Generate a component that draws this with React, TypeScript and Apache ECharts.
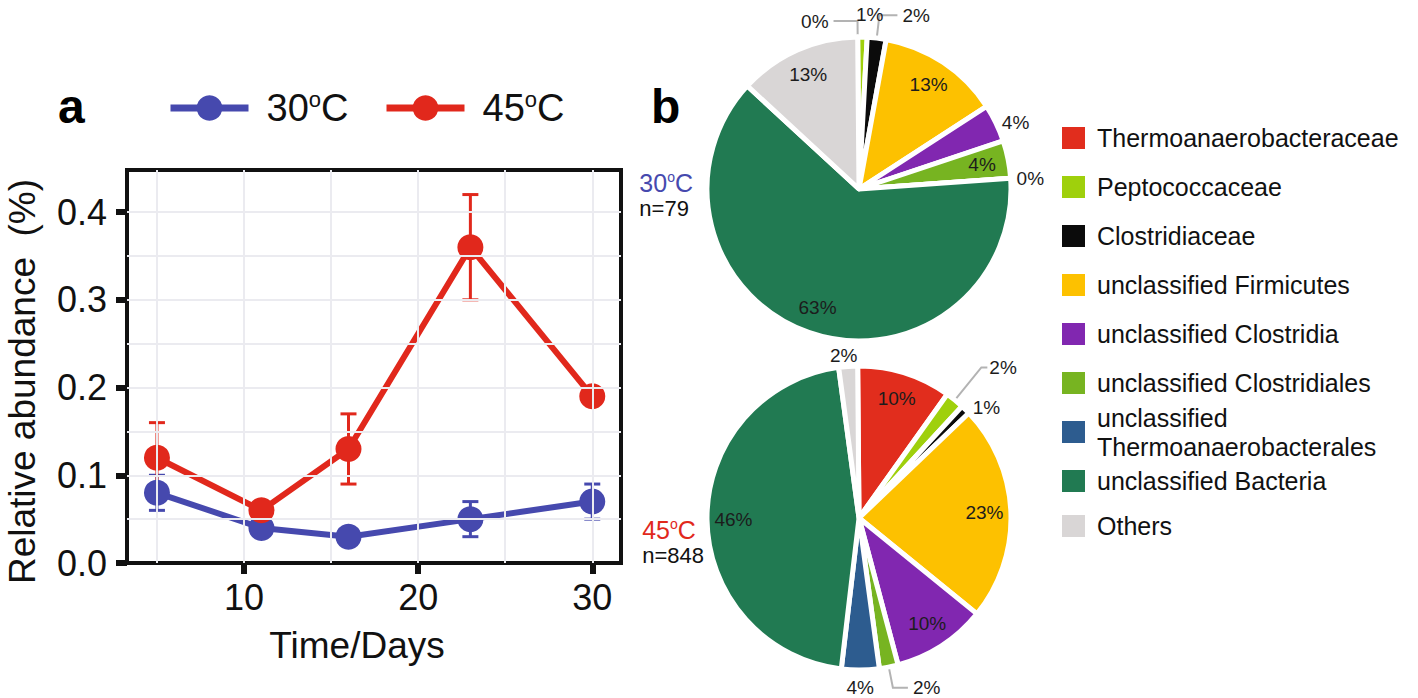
import React, { useEffect, useRef } from "react";
import * as echarts from "echarts";

// ---------- data (panel a) ----------
const DAYS = [5, 11, 16, 23, 30];
const ABUND_30 = [0.08, 0.04, 0.03, 0.05, 0.07];
const ABUND_45 = [0.12, 0.06, 0.13, 0.36, 0.19];
// error bars: [day, low, high]
const ERR_30 = [
  [5, 0.06, 0.1],
  [23, 0.03, 0.07],
  [30, 0.05, 0.09],
];
const ERR_45 = [
  [5, 0.08, 0.16],
  [16, 0.09, 0.17],
  [23, 0.3, 0.42],
];
const X_TICKS = [10, 20, 30];
const Y_TICKS = [0, 0.1, 0.2, 0.3, 0.4];
const X_GRID = [5, 10, 15, 20, 25, 30];
const Y_GRID = [0.05, 0.1, 0.15, 0.2, 0.25, 0.3, 0.35, 0.4];

// ---------- data (panel b) ----------
const TAXA = [
  "Thermoanaerobacteraceae",
  "Peptococcaceae",
  "Clostridiaceae",
  "unclassified Firmicutes",
  "unclassified Clostridia",
  "unclassified Clostridiales",
  "unclassified\nThermoanaerobacterales",
  "unclassified Bacteria",
  "Others",
];
const PCT_30 = [0, 1, 2, 13, 4, 4, 0, 63, 13];
const PCT_45 = [10, 2, 1, 23, 10, 2, 4, 46, 2];
const N_30 = 79;
const N_45 = 848;

// ---------- styles ----------
const FONT = "'Liberation Sans', Arial, Helvetica, sans-serif";
const BLUE = "#4649ae";
const RED = "#e1281c";
const PALETTE = [
  "#e12d1d",
  "#9fd00c",
  "#0b0b0b",
  "#fdc100",
  "#8127b0",
  "#77b421",
  "#2d5c8f",
  "#217a52",
  "#d9d6d6",
];

type LblCfg = { label: any; labelLine: any };
const inside = (): LblCfg => ({ label: { position: "inside" }, labelLine: { show: false } });
const outside = (len: number, len2: number, line: boolean, dist = 5): LblCfg => ({
  label: { position: "outside", distanceToLabelLine: dist },
  labelLine: { show: line, length: len, length2: len2 },
});
const LABELS_30: LblCfg[] = [
  outside(18, 24, true),
  outside(25, 0, false, -7),
  outside(25, 18, true),
  inside(),
  outside(3, 0, false),
  inside(),
  outside(3, 0, false),
  inside(),
  inside(),
];
const LABELS_45: LblCfg[] = [
  inside(),
  outside(44, 6, true, 2),
  outside(5, 0, false),
  inside(),
  inside(),
  outside(23, 15, true),
  outside(20, 0, false, -14),
  inside(),
  outside(13, 0, false, -10),
];

function errorSeries(data: number[][], color: string) {
  return {
    type: "custom",
    silent: true,
    data,
    encode: { x: 0, y: [1, 2] },
    renderItem: (_p: any, api: any) => {
      const x = api.value(0);
      const lo = api.coord([x, api.value(1)]);
      const hi = api.coord([x, api.value(2)]);
      const w = 8;
      const st = { stroke: color, lineWidth: 3 };
      return {
        type: "group",
        children: [
          { type: "line", shape: { x1: lo[0], y1: lo[1], x2: hi[0], y2: hi[1] }, style: st },
          { type: "line", shape: { x1: lo[0] - w, y1: lo[1], x2: lo[0] + w, y2: lo[1] }, style: st },
          { type: "line", shape: { x1: hi[0] - w, y1: hi[1], x2: hi[0] + w, y2: hi[1] }, style: st },
        ],
      };
    },
    z: 2,
  };
}

function pieSeries(values: number[], cy: number) {
  return {
    type: "pie",
    center: [859, cy],
    radius: [0, 152],
    startAngle: 90.5,
    clockwise: true,
    silent: true,
    label: { show: false },
    labelLine: { show: false },
    emphasis: { disabled: true },
    itemStyle: { borderColor: "#ffffff", borderWidth: 5 },
    data: TAXA.map((name, i) => ({ name, value: values[i] })),
  };
}

function pieLabelSeries(values: number[], cy: number, cfg: LblCfg[]) {
  return {
    type: "pie",
    center: [859, cy],
    radius: [95, 150],
    startAngle: 90.5,
    clockwise: true,
    silent: true,
    avoidLabelOverlap: false,
    emphasis: { disabled: true },
    itemStyle: { color: "rgba(0,0,0,0)", borderWidth: 0 },
    label: {
      show: true,
      formatter: "{c}%",
      fontSize: 19,
      color: "#1c1c1c",
      fontFamily: FONT,
    },
    labelLine: { lineStyle: { color: "#b3b3b3", width: 2 }, smooth: false },
    data: TAXA.map((name, i) => ({
      name,
      value: values[i],
      label: cfg[i].label,
      labelLine: cfg[i].labelLine,
    })),
  };
}

const lineLegend = (name: string, left: number) => ({
  data: [name],
  left,
  top: 88,
  padding: 0,
  itemWidth: 78,
  itemHeight: 32,
  selectedMode: false,
  lineStyle: { width: 7 },
  formatter: (n: string) => n.replace("°", "{o|o}"),
  textStyle: {
    fontSize: 38,
    lineHeight: 40,
    color: "#111",
    fontFamily: FONT,
    padding: [0, 0, 0, 13],
    rich: {
      o: { fontSize: 22, lineHeight: 22, verticalAlign: "top", color: "#111", fontFamily: FONT },
    },
  },
});

const pieLegend = (data: string[], top: number, gap: number, lineHeight: number) => ({
  data,
  orient: "vertical",
  left: 1062,
  top,
  padding: 0,
  itemGap: gap,
  itemWidth: 23,
  itemHeight: 22,
  icon: "rect",
  selectedMode: false,
  itemStyle: { borderWidth: 0 },
  textStyle: {
    fontSize: 25,
    lineHeight,
    color: "#111",
    fontFamily: FONT,
    padding: [0, 0, 0, 7],
  },
});

const sideTitle = (temp: string, n: number, color: string, right: number, top: number) => ({
  text: `{t|${temp}}{s|o}{t|C}\n{n|n=${n}}`,
  right,
  top,
  padding: 0,
  textStyle: {
    fontWeight: "normal",
    rich: {
      t: { fontSize: 25, lineHeight: 26, color, fontFamily: FONT, fontWeight: "normal" },
      s: { fontSize: 14, lineHeight: 14, verticalAlign: "top", color, fontFamily: FONT, fontWeight: "normal" },
      n: { fontSize: 22, lineHeight: 24, color: "#111", fontFamily: FONT, fontWeight: "normal" },
    },
  },
});

export default function App() {
  const ref = useRef<HTMLDivElement>(null);
  useEffect(() => {
    if (!ref.current) return;
    const chart = echarts.init(ref.current, null, { renderer: "svg" });
    const option: any = {
      animation: false,
      backgroundColor: "#ffffff",
      color: PALETTE,
      textStyle: { fontFamily: FONT },
      title: [
        { text: "a", left: 58, top: 82, padding: 0, textStyle: { fontSize: 48, fontWeight: "bold", color: "#000", fontFamily: FONT } },
        { text: "b", left: 651, top: 82, padding: 0, textStyle: { fontSize: 48, fontWeight: "bold", color: "#000", fontFamily: FONT } },
        sideTitle("30", N_30, BLUE, 725, 170),
        sideTitle("45", N_45, RED, 714, 517),
      ],
      legend: [
        lineLegend("30°C", 167),
        lineLegend("45°C", 383),
        pieLegend(TAXA.slice(0, 6), 125, 23, 26),
        pieLegend(TAXA.slice(6, 7), 403, 10, 29),
        pieLegend(TAXA.slice(7), 468, 19, 26),
      ],
      grid: {
        left: 127,
        top: 170,
        width: 494,
        height: 393,
        show: true,
        borderColor: "#111",
        borderWidth: 4,
        backgroundColor: "transparent",
      },
      xAxis: {
        type: "value",
        min: 3.28,
        max: 31.65,
        name: "Time/Days",
        nameLocation: "middle",
        nameGap: 64,
        nameTextStyle: { fontSize: 37, color: "#111", fontFamily: FONT, padding: [0, 34, 0, 0] },
        axisLine: { show: true, onZero: false, lineStyle: { color: "#111", width: 4 } },
        axisTick: { show: true, length: 11, customValues: X_TICKS, lineStyle: { color: "#111", width: 6 } },
        axisLabel: {
          customValues: X_TICKS,
          fontSize: 36,
          color: "#111",
          fontFamily: FONT,
          margin: 16,
          formatter: (v: number) => String(v),
        },
        splitLine: { show: false },
      },
      yAxis: {
        type: "value",
        min: 0,
        max: 0.448,
        name: "Relative abundance  (%)",
        nameLocation: "middle",
        nameGap: 86,
        nameTextStyle: { fontSize: 37, color: "#111", fontFamily: FONT, padding: [0, 30, 0, 0] },
        axisLine: { show: true, onZero: false, lineStyle: { color: "#111", width: 4 } },
        axisTick: { show: true, length: 11, customValues: Y_TICKS, lineStyle: { color: "#111", width: 6 } },
        axisLabel: {
          customValues: Y_TICKS,
          fontSize: 36,
          color: "#111",
          fontFamily: FONT,
          margin: 20,
          formatter: (v: number) => v.toFixed(1),
        },
        splitLine: { show: false },
      },
      series: [
        {
          name: "grid",
          type: "line",
          data: DAYS.map((d, i) => [d, ABUND_30[i]]),
          showSymbol: false,
          silent: true,
          lineStyle: { opacity: 0 },
          z: 1,
          markLine: {
            silent: true,
            symbol: ["none", "none"],
            label: { show: false },
            lineStyle: { color: "#ebebf0", width: 2, type: "solid" },
            emphasis: { disabled: true },
            data: [...X_GRID.map((v) => ({ xAxis: v })), ...Y_GRID.map((v) => ({ yAxis: v }))],
          },
        },
        errorSeries(ERR_30, BLUE),
        {
          name: "30°C",
          type: "line",
          data: DAYS.map((d, i) => [d, ABUND_30[i]]),
          symbol: "circle",
          symbolSize: 26,
          color: BLUE,
          lineStyle: { color: BLUE, width: 6 },
          itemStyle: { color: BLUE },
          emphasis: { disabled: true },
          z: 3,
        },
        errorSeries(ERR_45, RED),
        {
          name: "45°C",
          type: "line",
          data: DAYS.map((d, i) => [d, ABUND_45[i]]),
          symbol: "circle",
          symbolSize: 26,
          color: RED,
          lineStyle: { color: RED, width: 6 },
          itemStyle: { color: RED },
          emphasis: { disabled: true },
          z: 4,
        },
        pieSeries(PCT_30, 189),
        pieSeries(PCT_45, 518),
        pieLabelSeries(PCT_30, 189, LABELS_30),
        pieLabelSeries(PCT_45, 518, LABELS_45),
      ],
    };
    chart.setOption(option);
    return () => chart.dispose();
  }, []);
  return (
    <div
      ref={ref}
      style={{ position: "fixed", left: 0, top: 0, width: 1418, height: 698, background: "#fff" }}
    />
  );
}
